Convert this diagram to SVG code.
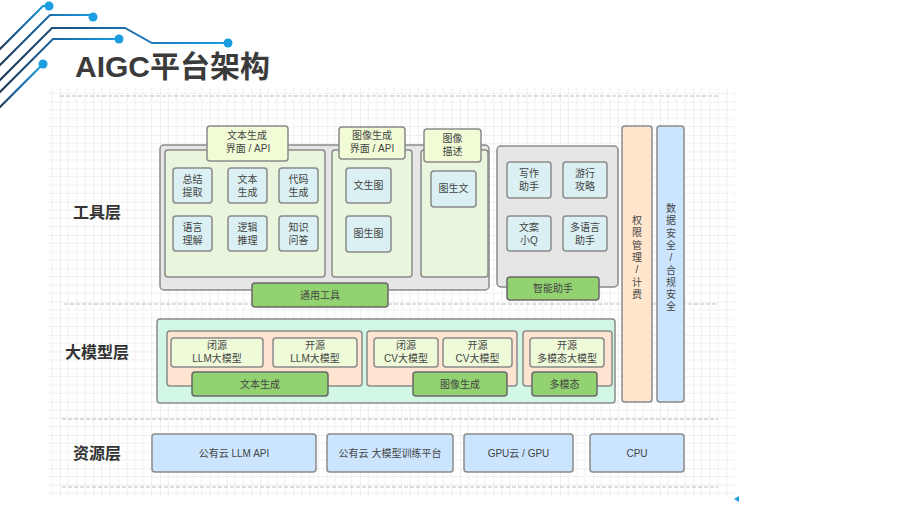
<svg xmlns="http://www.w3.org/2000/svg" width="900" height="505" viewBox="0 0 900 505">
<defs>
<pattern id="grid" x="26.67" y="68.33" width="33.33" height="33.33" patternUnits="userSpaceOnUse">
<path d="M8.33 0V33.33M16.67 0V33.33M25 0V33.33M0 8.33H33.33M0 16.67H33.33M0 25H33.33" stroke="#f0f0f0" stroke-width="1" fill="none"/>
<path d="M0 0V33.33M0 0H33.33" stroke="#e2e2e2" stroke-width="1" fill="none"/>
</pattern>
<linearGradient id="wire" x1="0" y1="0" x2="1" y2="0">
<stop offset="0" stop-color="#1d3550"/>
<stop offset="0.5" stop-color="#1a6aa8"/>
<stop offset="1" stop-color="#1a9ee0"/>
</linearGradient>
<style>
.box{stroke:#8a8a8a;stroke-width:1.5}
.gray{fill:#e6e6e6}
.green{fill:#e9f5dd}
.head{fill:#f1fbd6}
.cyan{fill:#daf0f3}
.bar{fill:#93d271;stroke:#6a6a6a;stroke-width:1.5}
.orange{fill:#ffe6cc}
.blue{fill:#cce5ff}
.mint{fill:#d2f7e5}
.peach{fill:#ffe4d1}
.model{fill:#effad9}
.t{font-family:"Liberation Sans","Noto Sans CJK SC",sans-serif;font-size:10px;fill:#444;text-anchor:middle}
.layer{font-family:"Liberation Sans","Noto Sans CJK SC",sans-serif;font-size:16px;font-weight:bold;fill:#333;text-anchor:middle}
.dash{stroke:#bdbdbd;stroke-width:1;stroke-dasharray:4 2;fill:none}
.w{fill:none;stroke:url(#wire);stroke-width:2}
.dot{fill:#1a9ee0}
</style>
</defs>
<rect width="900" height="505" fill="#ffffff"/>
<rect x="48" y="88" width="687" height="409" fill="url(#grid)"/>

<g id="decoration">
<path class="w" d="M-2 51L43 6H49"/>
<path class="w" d="M-2 67L50 15H93"/>
<path class="w" d="M-2 82L52 28H125L152 43H228"/>
<path class="w" d="M-2 94L53 39H119"/>
<path class="w" d="M-2 109L43 64"/>
<circle class="dot" cx="49" cy="6" r="4.5"/>
<circle class="dot" cx="93" cy="17" r="4.5"/>
<circle class="dot" cx="228" cy="43" r="4.5"/>
<circle class="dot" cx="119" cy="39" r="4.5"/>
<circle class="dot" cx="43" cy="64" r="4.5"/>
<path d="M734 499L739 496V502Z" fill="#1a9ee0"/>
</g>

<text x="75" y="77" font-family="'Liberation Sans','Noto Sans CJK SC',sans-serif" font-size="30" font-weight="bold" fill="#3b3b3b">AIGC平台架构</text>

<g id="separators">
<line class="dash" x1="60" y1="96" x2="720" y2="96"/>
<line class="dash" x1="64" y1="304" x2="718" y2="304"/>
<line class="dash" x1="62" y1="419" x2="718" y2="419"/>
<line class="dash" x1="62" y1="487" x2="718" y2="487"/>
</g>

<g id="layer-labels">
<text class="layer" x="97" y="218">工具层</text>
<text class="layer" x="97" y="358">大模型层</text>
<text class="layer" x="97" y="459">资源层</text>
</g>

<!-- Tool layer -->
<g id="tools-general">
<rect class="box gray" x="160" y="145" width="329" height="145" rx="4"/>
</g>
<g id="text-gen-tools">
<rect class="box green" x="165" y="150" width="160" height="127" rx="3"/>
<rect class="box head" x="207" y="126" width="81" height="35" rx="3"/>
<text class="t" x="247" y="139">文本生成</text>
<text class="t" x="248" y="152">界面 / API</text>
</g>
<g id="n-summary"><rect class="box cyan" x="173" y="168" width="39" height="35" rx="3"/><text class="t" x="192.5" y="183">总结</text><text class="t" x="192.5" y="196">提取</text></g>
<g id="n-textgen"><rect class="box cyan" x="228" y="168" width="39" height="35" rx="3"/><text class="t" x="247.5" y="183">文本</text><text class="t" x="247.5" y="196">生成</text></g>
<g id="n-codegen"><rect class="box cyan" x="279" y="168" width="39" height="35" rx="3"/><text class="t" x="298.5" y="183">代码</text><text class="t" x="298.5" y="196">生成</text></g>
<g id="n-lang"><rect class="box cyan" x="173" y="216" width="39" height="35" rx="3"/><text class="t" x="192.5" y="231">语言</text><text class="t" x="192.5" y="244">理解</text></g>
<g id="n-logic"><rect class="box cyan" x="228" y="216" width="39" height="35" rx="3"/><text class="t" x="247.5" y="231">逻辑</text><text class="t" x="247.5" y="244">推理</text></g>
<g id="n-qa"><rect class="box cyan" x="279" y="216" width="39" height="35" rx="3"/><text class="t" x="298.5" y="231">知识</text><text class="t" x="298.5" y="244">问答</text></g>

<g id="image-gen-tools">
<rect class="box green" x="332" y="150" width="80" height="127" rx="3"/>
<rect class="box head" x="339" y="127" width="66" height="32" rx="3"/>
<text class="t" x="372" y="139">图像生成</text>
<text class="t" x="372" y="152">界面 / API</text>
</g>
<g id="n-t2i"><rect class="box cyan" x="346" y="168" width="45" height="35" rx="3"/><text class="t" x="368.5" y="189">文生图</text></g>
<g id="n-i2i"><rect class="box cyan" x="346" y="216" width="45" height="36" rx="3"/><text class="t" x="368.5" y="237">图生图</text></g>

<g id="image-desc-tools">
<rect class="box green" x="421" y="150" width="67" height="127" rx="3"/>
<rect class="box head" x="424" y="129" width="57" height="33" rx="3"/>
<text class="t" x="452.5" y="142">图像</text>
<text class="t" x="452.5" y="155">描述</text>
</g>
<g id="n-i2t"><rect class="box cyan" x="431" y="171" width="45" height="36" rx="3"/><text class="t" x="453.5" y="192">图生文</text></g>

<g id="n-general-tools"><rect class="bar" x="252" y="283" width="136" height="24" rx="3"/><text class="t" x="320" y="299">通用工具</text></g>

<g id="assistant">
<rect class="box gray" x="497" y="146" width="121" height="141" rx="4"/>
</g>
<g id="n-writing"><rect class="box cyan" x="507" y="162" width="44" height="36" rx="3"/><text class="t" x="529" y="177">写作</text><text class="t" x="529" y="190">助手</text></g>
<g id="n-travel"><rect class="box cyan" x="563" y="162" width="44" height="36" rx="3"/><text class="t" x="585" y="177">游行</text><text class="t" x="585" y="190">攻略</text></g>
<g id="n-wenxin"><rect class="box cyan" x="507" y="216" width="44" height="35" rx="3"/><text class="t" x="529" y="231">文案</text><text class="t" x="529" y="244">小Q</text></g>
<g id="n-multilang"><rect class="box cyan" x="563" y="216" width="44" height="35" rx="3"/><text class="t" x="585" y="231">多语言</text><text class="t" x="585" y="244">助手</text></g>
<g id="n-smart"><rect class="bar" x="507" y="277" width="92" height="23" rx="3"/><text class="t" x="553" y="292">智能助手</text></g>

<g id="n-permission">
<rect class="box orange" x="622" y="126" width="30" height="276" rx="3"/>
<text class="t" x="637" y="224"><tspan x="637">权</tspan><tspan x="637" dy="12.3">限</tspan><tspan x="637" dy="12.3">管</tspan><tspan x="637" dy="12.3">理</tspan><tspan x="637" dy="12.3">/</tspan><tspan x="637" dy="12.3">计</tspan><tspan x="637" dy="12.3">费</tspan></text>
</g>
<g id="n-security">
<rect class="box blue" x="657" y="126" width="27" height="276" rx="3"/>
<text class="t" x="671" y="212"><tspan x="671">数</tspan><tspan x="671" dy="12.3">据</tspan><tspan x="671" dy="12.3">安</tspan><tspan x="671" dy="12.3">全</tspan><tspan x="671" dy="12.3">/</tspan><tspan x="671" dy="12.3">合</tspan><tspan x="671" dy="12.3">规</tspan><tspan x="671" dy="12.3">安</tspan><tspan x="671" dy="12.3">全</tspan></text>
</g>

<!-- Model layer -->
<g id="model-layer"><rect class="box mint" x="157" y="319" width="458" height="84" rx="3"/></g>
<g id="text-models"><rect class="box peach" x="167" y="331" width="195" height="55" rx="3"/></g>
<g id="n-closed-llm"><rect class="box model" x="171" y="338" width="92" height="29" rx="3"/><text class="t" x="217" y="349">闭源</text><text class="t" x="217" y="362">LLM大模型</text></g>
<g id="n-open-llm"><rect class="box model" x="273" y="338" width="84" height="29" rx="3"/><text class="t" x="315" y="349">开源</text><text class="t" x="315" y="362">LLM大模型</text></g>
<g id="n-textgen-model"><rect class="bar" x="192" y="372" width="136" height="24" rx="3"/><text class="t" x="260" y="388">文本生成</text></g>

<g id="image-models"><rect class="box peach" x="367" y="331" width="150" height="55" rx="3"/></g>
<g id="n-closed-cv"><rect class="box model" x="374" y="338" width="64" height="29" rx="3"/><text class="t" x="406" y="349">闭源</text><text class="t" x="406" y="362">CV大模型</text></g>
<g id="n-open-cv"><rect class="box model" x="443" y="338" width="69" height="29" rx="3"/><text class="t" x="477.5" y="349">开源</text><text class="t" x="477.5" y="362">CV大模型</text></g>
<g id="n-imagegen-model"><rect class="bar" x="413" y="372" width="94" height="24" rx="3"/><text class="t" x="460" y="388">图像生成</text></g>

<g id="multi-models"><rect class="box peach" x="523" y="331" width="89" height="55" rx="3"/></g>
<g id="n-open-mm"><rect class="box model" x="530" y="338" width="74" height="29" rx="3"/><text class="t" x="567" y="349">开源</text><text class="t" x="567" y="362">多模态大模型</text></g>
<g id="n-multimodal"><rect class="bar" x="532" y="372" width="65" height="24" rx="3"/><text class="t" x="564.5" y="388">多模态</text></g>

<!-- Resource layer -->
<g id="n-llm-api"><rect class="box blue" x="152" y="434" width="164" height="38" rx="3"/><text class="t" x="234" y="456.5">公有云 LLM API</text></g>
<g id="n-train"><rect class="box blue" x="327" y="434" width="126" height="38" rx="3"/><text class="t" x="390" y="456.5">公有云 大模型训练平台</text></g>
<g id="n-gpu"><rect class="box blue" x="464" y="434" width="109" height="38" rx="3"/><text class="t" x="518.5" y="456.5">GPU云 / GPU</text></g>
<g id="n-cpu"><rect class="box blue" x="590" y="434" width="94" height="38" rx="3"/><text class="t" x="637" y="456.5">CPU</text></g>

<g id="connectors"></g>
</svg>
